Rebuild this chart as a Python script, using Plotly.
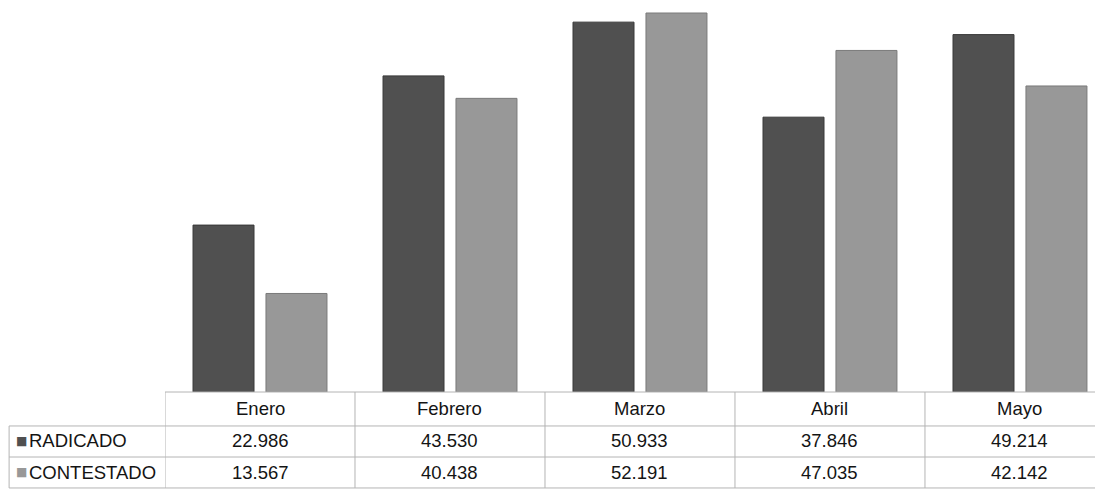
import plotly.graph_objects as go

months = ['Enero', 'Febrero', 'Marzo', 'Abril', 'Mayo']
radicado = [22986, 43530, 50933, 37846, 49214]
contestado = [13567, 40438, 52191, 47035, 42142]

dark = '#505050'
light = '#989898'
grid = '#b4b4b4'
text_color = '#141414'
font = 'Liberation Sans, Arial, sans-serif'

# the page puts the figure 8px in from the top-left corner, so it is drawn 8px smaller
W, H = 1095, 484

# table rows (paper y): header centre, row centres, and the lines between them
table_top = 0.2066
row_lines = [0.1364, 0.0723, 0.0083]
header_y = 0.1715
rows_y = [0.1054, 0.0413]


def fmt(v):
	# Spanish style thousands separator
	return f'{v:,}'.replace(',', '.')


fig = go.Figure()

fig.add_trace(go.Bar(
	x=months, y=radicado, name='RADICADO',
	marker=dict(color=dark, line=dict(color='#383838', width=1))
))
fig.add_trace(go.Bar(
	x=months, y=contestado, name='CONTESTADO',
	marker=dict(color=light, line=dict(color='#7a7a7a', width=1))
))

annotations = []

# header row: month names
for m in months:
	annotations.append(dict(
		x=m, y=header_y, xref='x', yref='paper', text=m, showarrow=False,
		yanchor='middle', font=dict(family=font, size=18.5, color=text_color)
	))

# data rows with legend keys
series = [('RADICADO', radicado, dark), ('CONTESTADO', contestado, light)]
for (label, values, color), ry in zip(series, rows_y):
	annotations.append(dict(
		x=6 / W, y=ry, xref='paper', yref='paper', text='■', showarrow=False,
		xanchor='left', yanchor='middle',
		font=dict(family='DejaVu Sans', size=12, color=color)
	))
	annotations.append(dict(
		x=19 / W, y=ry, xref='paper', yref='paper', text=label, showarrow=False,
		xanchor='left', yanchor='middle',
		font=dict(family=font, size=18.5, color=text_color)
	))
	for m, v in zip(months, values):
		annotations.append(dict(
			x=m, y=ry, xref='x', yref='paper', text=fmt(v), showarrow=False,
			yanchor='middle', font=dict(family=font, size=18.5, color=text_color)
		))

# table grid
line = dict(color=grid, width=1)
shapes = [
	dict(type='line', xref='x', yref='paper', x0=-0.5, x1=4.5,
		 y0=table_top, y1=table_top, line=line),
	dict(type='line', xref='paper', yref='paper', x0=0.001, x1=0.001,
		 y0=row_lines[-1], y1=row_lines[0], line=line),
]
for ly in row_lines:
	shapes.append(dict(type='line', xref='paper', yref='paper', x0=0.001, x1=1,
					   y0=ly, y1=ly, line=line))
for i in range(len(months)):
	shapes.append(dict(type='line', xref='x', yref='paper', x0=i - 0.5, x1=i - 0.5,
					   y0=row_lines[-1], y1=table_top, line=line))

fig.update_layout(
	width=W,
	height=H,
	margin=dict(l=0, r=0, t=0, b=0),
	barmode='group',
	bargap=0.232,
	bargroupgap=0.164,
	showlegend=False,
	plot_bgcolor='white',
	paper_bgcolor='white',
	font=dict(family=font),
	annotations=annotations,
	shapes=shapes,
	xaxis=dict(domain=[157 / W, 1], range=[-0.5, 4.437], showticklabels=False,
			   showgrid=False, zeroline=False, showline=False, ticks=''),
	yaxis=dict(domain=[table_top, 1], range=[0, 52880], visible=False)
)

fig.write_html('out.html')
